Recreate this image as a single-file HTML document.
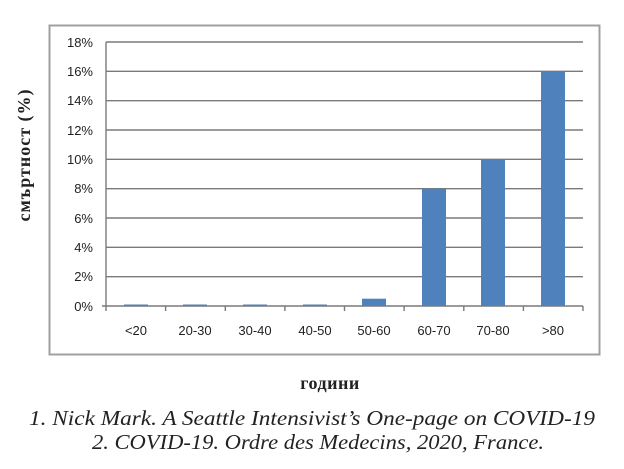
<!DOCTYPE html>
<html><head><meta charset="utf-8"><style>body{margin:0;background:#fff}</style></head><body>
<svg width="624" height="464" xmlns="http://www.w3.org/2000/svg">
<rect x="49.5" y="25.5" width="550" height="329" fill="#fff" stroke="#a0a0a0" stroke-width="2"/>
<g stroke="#7a7a7a" stroke-width="1.4">
<line x1="106" y1="42" x2="583" y2="42"/><line x1="106" y1="71.3" x2="583" y2="71.3"/>
<line x1="106" y1="100.7" x2="583" y2="100.7"/><line x1="106" y1="130" x2="583" y2="130"/>
<line x1="106" y1="159.3" x2="583" y2="159.3"/><line x1="106" y1="188.7" x2="583" y2="188.7"/>
<line x1="106" y1="218" x2="583" y2="218"/><line x1="106" y1="247.3" x2="583" y2="247.3"/>
<line x1="106" y1="276.7" x2="583" y2="276.7"/>
<line x1="106" y1="42" x2="106" y2="306"/><line x1="102" y1="306" x2="583" y2="306"/>
<line x1="165.6" y1="306" x2="165.6" y2="311"/><line x1="225.3" y1="306" x2="225.3" y2="311"/>
<line x1="284.9" y1="306" x2="284.9" y2="311"/><line x1="344.5" y1="306" x2="344.5" y2="311"/>
<line x1="404.1" y1="306" x2="404.1" y2="311"/><line x1="463.8" y1="306" x2="463.8" y2="311"/>
<line x1="523.4" y1="306" x2="523.4" y2="311"/><line x1="583" y1="306" x2="583" y2="311"/>
<line x1="106" y1="306" x2="106" y2="311"/>
</g>
<g fill="#4f81bd">
<rect x="124" y="304.5" width="24" height="1.5"/><rect x="183" y="304.5" width="24" height="1.5"/>
<rect x="243" y="304.5" width="24" height="1.5"/><rect x="303" y="304.5" width="24" height="1.5"/>
<rect x="362" y="298.7" width="24" height="7.3"/><rect x="422" y="188.7" width="24" height="117.3"/>
<rect x="481" y="159.3" width="24" height="146.7"/><rect x="541" y="71.3" width="24" height="234.7"/>
</g>
<g font-family="Liberation Sans, sans-serif" font-size="13" fill="#222" text-anchor="end">
<text x="93" y="47">18%</text><text x="93" y="76">16%</text><text x="93" y="105">14%</text>
<text x="93" y="135">12%</text><text x="93" y="164">10%</text><text x="93" y="193">8%</text>
<text x="93" y="223">6%</text><text x="93" y="252">4%</text><text x="93" y="281">2%</text><text x="93" y="311">0%</text>
</g>
<g font-family="Liberation Sans, sans-serif" font-size="13" fill="#222" text-anchor="middle">
<text x="136" y="335">&lt;20</text><text x="195" y="335">20-30</text><text x="255" y="335">30-40</text>
<text x="315" y="335">40-50</text><text x="374" y="335">50-60</text><text x="434" y="335">60-70</text>
<text x="493" y="335">70-80</text><text x="553" y="335">&gt;80</text>
</g>
<text transform="translate(30,155) rotate(-90)" text-anchor="middle" font-family="Liberation Serif, serif" font-weight="bold" font-size="18" letter-spacing="1" fill="#222">смъртност (%)</text>
<text x="330" y="389" text-anchor="middle" font-family="Liberation Serif, serif" font-weight="bold" font-size="18" letter-spacing="0.5" fill="#222">години</text>
<g font-family="Liberation Serif, serif" font-style="italic" font-size="21" fill="#222" text-anchor="middle">
<text x="312" y="425" textLength="566" lengthAdjust="spacingAndGlyphs">1. Nick Mark. A Seattle Intensivist’s One-page on COVID-19</text>
<text x="318" y="449" textLength="452" lengthAdjust="spacingAndGlyphs">2. COVID-19. Ordre des Medecins, 2020, France.</text>
</g>
</svg>
</body></html>
